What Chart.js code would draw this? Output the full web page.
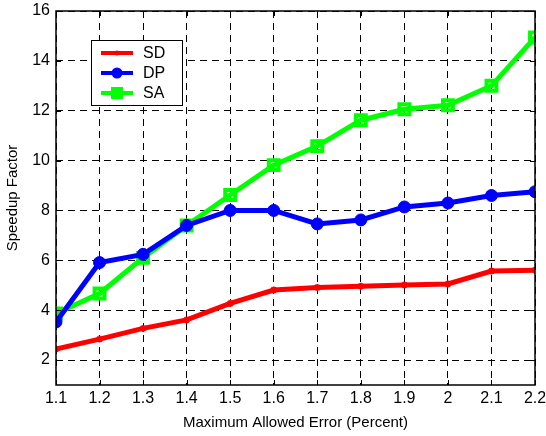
<!DOCTYPE html>
<html>
<head>
<meta charset="utf-8">
<script src="https://cdn.jsdelivr.net/npm/chart.js@4.4.1/dist/chart.umd.min.js"></script>
<style>
  html, body { margin: 0; padding: 0; background: #fff; }
  #wrap { width: 546px; height: 436px; }
</style>
</head>
<body>
<div id="wrap"><canvas id="speedup" width="546" height="436"></canvas></div>
<script>
var errors = [1.1, 1.2, 1.3, 1.4, 1.5, 1.6, 1.7, 1.8, 1.9, 2.0, 2.1, 2.2];
var sdValues = [2.44, 2.84, 3.27, 3.61, 4.27, 4.81, 4.91, 4.96, 5.01, 5.05, 5.57, 5.6];
var dpValues = [3.53, 5.91, 6.24, 7.4, 8.0, 8.0, 7.46, 7.62, 8.14, 8.3, 8.6, 8.75];
var saValues = [3.87, 4.67, 6.1, 7.4, 8.62, 9.82, 10.58, 11.62, 12.06, 12.22, 13.0, 14.94];
var yTicks = [2, 4, 6, 8, 10, 12, 14, 16];

var font = 'Liberation Sans, Arial, Helvetica, sans-serif';

function pts( vals ) {
	return vals.map( function ( v, i ) { return { x: errors[i], y: v }; } );
}

// box, inward ticks and legend like the MATLAB figure
var framePlugin = {
	id: 'frame',
	afterDatasetsDraw: function ( chart ) {
		var ctx = chart.ctx, a = chart.chartArea;
		var xs = chart.scales.x, ys = chart.scales.y;
		ctx.save();
		ctx.strokeStyle = '#000';
		ctx.lineWidth = 1;
		ctx.beginPath();
		xs.ticks.forEach( function ( t ) {
			var px = Math.round( xs.getPixelForValue( t.value ) ) + 0.5;
			ctx.moveTo( px, a.bottom ); ctx.lineTo( px, a.bottom - 5 );
			ctx.moveTo( px, a.top ); ctx.lineTo( px, a.top + 5 );
		} );
		ys.ticks.forEach( function ( t ) {
			var py = Math.round( ys.getPixelForValue( t.value ) ) + 0.5;
			ctx.moveTo( a.left, py ); ctx.lineTo( a.left + 5, py );
			ctx.moveTo( a.right, py ); ctx.lineTo( a.right - 5, py );
		} );
		ctx.stroke();
		ctx.lineWidth = 1.5;
		ctx.strokeRect( a.left, a.top, a.right - a.left, a.bottom - a.top );

		// legend
		var lx = a.left + 35, ly = a.top + 29, lw = 91, lh = 65;
		ctx.fillStyle = '#fff';
		ctx.fillRect( lx, ly, lw, lh );
		ctx.lineWidth = 1;
		ctx.strokeRect( lx + 0.5, ly + 0.5, lw, lh );
		chart.data.datasets.forEach( function ( ds, i ) {
			var yy = ly + 13 + i * 20;
			ctx.strokeStyle = ds.borderColor;
			ctx.fillStyle = ds.borderColor;
			ctx.lineWidth = 4;
			ctx.beginPath();
			ctx.moveTo( lx + 10, yy ); ctx.lineTo( lx + 42, yy );
			ctx.stroke();
			var cx = lx + 26;
			if ( ds.pointStyle === 'circle' ) {
				ctx.beginPath(); ctx.arc( cx, yy, 5.5, 0, Math.PI * 2 ); ctx.fill();
			} else if ( ds.pointStyle === 'rect' ) {
				ctx.fillRect( cx - 6, yy - 6, 12, 12 );
			} else {
				ctx.beginPath(); ctx.arc( cx, yy, 2.5, 0, Math.PI * 2 ); ctx.fill();
			}
			ctx.fillStyle = '#000';
			ctx.font = '16px ' + font;
			ctx.textBaseline = 'middle';
			ctx.fillText( ds.label, lx + 52, yy + 1 );
		} );
		ctx.restore();
	}
};

var ctx = document.getElementById( 'speedup' ).getContext( '2d' );
var myChart = new Chart( ctx, {
	type: 'line',
	data: {
		datasets: [
			{
				label: 'SD', data: pts( sdValues ),
				borderColor: '#ff0000', backgroundColor: '#ff0000',
				borderWidth: 5, pointStyle: 'star', pointRadius: 3.5, pointBorderWidth: 2
			},
			{
				label: 'DP', data: pts( dpValues ),
				borderColor: '#0000ff', backgroundColor: '#0000ff',
				borderWidth: 5, pointStyle: 'circle', pointRadius: 6, pointBorderWidth: 1
			},
			{
				label: 'SA', data: pts( saValues ),
				borderColor: '#00ff00', backgroundColor: 'rgba(0,255,0,0)',
				borderWidth: 5, pointStyle: 'rect', pointRadius: 7, pointBorderWidth: 4
			}
		]
	},
	options: {
		responsive: false,
		animation: false,
		layout: { padding: { top: 9, right: 9, left: 0, bottom: 0 } },
		plugins: {
			legend: { display: false },
			tooltip: { enabled: false }
		},
		scales: {
			x: {
				type: 'linear',
				min: 1.1, max: 2.2,
				afterBuildTicks: function ( scale ) {
					scale.ticks = errors.map( function ( v ) { return { value: v }; } );
				},
				afterFit: function ( scale ) {
					scale.height = 51;
					scale.paddingRight = 0;
					scale.paddingLeft = 0;
				},
				ticks: {
					color: '#000', font: { family: font, size: 16 }, padding: 4,
					maxRotation: 0, autoSkip: false,
					callback: function ( v ) { return String( Number( v.toFixed( 1 ) ) ); }
				},
				grid: { color: '#000', lineWidth: 1, drawTicks: false, tickLength: 0 },
				border: { display: false, dash: [7, 5] },
				title: {
					display: true, text: 'Maximum Allowed Error (Percent)',
					color: '#000', font: { family: font, size: 15 }, padding: { top: 1 }
				}
			},
			y: {
				min: 1, max: 16,
				afterBuildTicks: function ( scale ) {
					scale.ticks = yTicks.map( function ( v ) { return { value: v }; } );
				},
				afterFit: function ( scale ) {
					scale.width = 56;
					scale.paddingTop = 0;
					scale.paddingBottom = 0;
				},
				ticks: { color: '#000', font: { family: font, size: 16 }, padding: 6 },
				grid: { color: '#000', lineWidth: 1, drawTicks: false, tickLength: 0 },
				border: { display: false, dash: [7, 5] },
				title: {
					display: true, text: 'Speedup Factor',
					color: '#000', font: { family: font, size: 15 }, padding: { bottom: 0 }
				}
			}
		}
	},
	plugins: [framePlugin]
} );
</script>
</body>
</html>
